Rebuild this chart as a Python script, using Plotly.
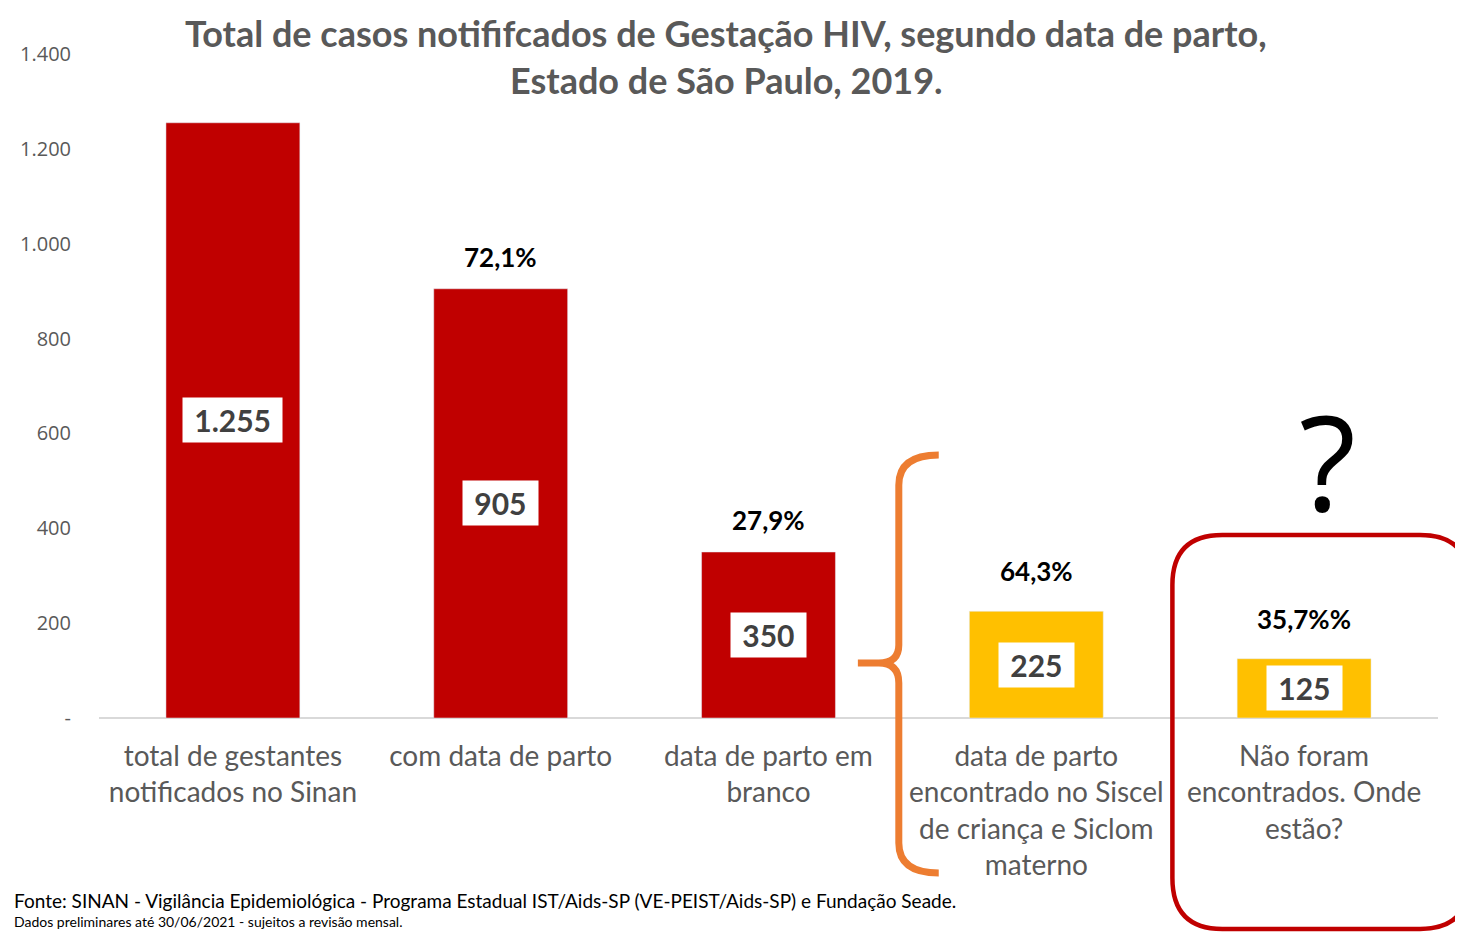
import plotly.graph_objects as go

# ---- data ----
categories = [
    "total de gestantes<br>notificados no Sinan",
    "com data de parto",
    "data de parto em<br>branco",
    "data de parto<br>encontrado no Siscel<br>de criança e Siclom<br>materno",
    "Não foram<br>encontrados. Onde<br>estão?",
]
values = [1255, 905, 350, 225, 125]
value_labels = ["1.255", "905", "350", "225", "125"]
pct_labels = ["", "72,1%", "27,9%", "64,3%", "35,7%%"]
bar_colors = ["#C00000", "#C00000", "#C00000", "#FFC000", "#FFC000"]
y_tickvals = [0, 200, 400, 600, 800, 1000, 1200, 1400]
y_ticktext = ["-", "200", "400", "600", "800", "1.000", "1.200", "1.400"]

FONT = "Lato, Open Sans, sans-serif"

# page geometry (pixels); the page body has an 8px margin
OFF = 8
W, H = 1463 - OFF, 934 - OFF
L, R, T, B = 97 - OFF, 25, 54 - OFF, 934 - 718
PW, PH = W - L - R, H - T - B


def px(x):  # page pixel -> paper
    return (x - OFF - L) / PW


def py(y):
    return (718 - y) / PH


xs = list(range(len(categories)))

fig = go.Figure()
fig.add_trace(go.Bar(
    x=xs, y=values, marker_color=bar_colors, width=0.5,
    hoverinfo="skip", showlegend=False,
))

ann = []
# value boxes at mid-bar
for i, (v, t) in enumerate(zip(values, value_labels)):
    ann.append(dict(x=i, y=v / 2, xref="x", yref="y", text="&nbsp;" + t + "&nbsp;",
                    showarrow=False, xanchor="center", yanchor="middle",
                    font=dict(family=FONT, size=30, color="#404040", weight="bold"),
                    bgcolor="white", borderpad=4))
# percentages above bars
for i, (v, t) in enumerate(zip(values, pct_labels)):
    if t:
        ann.append(dict(x=i, y=v, xref="x", yref="y", text=t, showarrow=False,
                        xanchor="center", yanchor="bottom", yshift=14 if i < 3 else 22,
                        font=dict(family=FONT, size=26, color="#000000", weight="bold")))

# title
title_font = dict(family=FONT, size=36, color="#595959", weight="bold")
ann.append(dict(x=px(725), y=py(33), xref="paper", yref="paper", showarrow=False,
                xanchor="center", yanchor="middle",
                text="Total de casos notififcados de Gestação HIV, segundo data de parto,",
                font=title_font))
ann.append(dict(x=px(725), y=py(80), xref="paper", yref="paper", showarrow=False,
                xanchor="center", yanchor="middle",
                text="Estado de São Paulo, 2019.", font=title_font))
# question mark
ann.append(dict(x=px(1327), y=py(460), xref="paper", yref="paper", showarrow=False,
                xanchor="center", yanchor="middle",
                text="?", font=dict(family="Open Sans, sans-serif", size=132, color="#000000")))
# footnotes
ann.append(dict(x=px(10), y=py(900), xref="paper", yref="paper", showarrow=False,
                xanchor="left", yanchor="middle",
                text="Fonte: SINAN - Vigilância Epidemiológica - Programa Estadual IST/Aids-SP (VE-PEIST/Aids-SP) e Fundação Seade.",
                font=dict(family=FONT, size=19, color="#000000")))
ann.append(dict(x=px(10), y=py(921), xref="paper", yref="paper", showarrow=False,
                xanchor="left", yanchor="middle",
                text="Dados preliminares até 30/06/2021 - sujeitos a revisão mensal.",
                font=dict(family=FONT, size=14, color="#000000")))


def pth(points):
    out = []
    for p in points:
        if isinstance(p, str):
            out.append(p)
        else:
            out.append(f"{px(p[0]):.5f},{py(p[1]):.5f}")
    return " ".join(out)


brace = pth(["M", (938, 455), "Q", (898, 455), (898, 485), "L", (898, 645),
             "Q", (898, 663), (878, 663), "L", (857, 663),
             "M", (878, 663), "Q", (898, 663), (898, 683), "L", (898, 843),
             "Q", (898, 873), (938, 873)])
box = pth(["M", (1222, 535), "L", (1420, 535), "Q", (1470, 535), (1470, 585),
           "L", (1470, 878), "Q", (1470, 929), (1420, 929), "L", (1222, 929),
           "Q", (1172, 929), (1172, 878), "L", (1172, 585), "Q", (1172, 535), (1222, 535), "Z"])

shapes = [
    dict(type="path", xref="paper", yref="paper", path=brace,
         line=dict(color="#ED7D31", width=7)),
    dict(type="path", xref="paper", yref="paper", path=box,
         line=dict(color="#C00000", width=4.5)),
]

fig.update_layout(
    width=W, height=H,
    margin=dict(l=L, r=R, t=T, b=B),
    plot_bgcolor="white", paper_bgcolor="white",
    annotations=ann, shapes=shapes, showlegend=False,
    xaxis=dict(tickvals=xs, ticktext=categories, range=[-0.5, 4.5],
               showgrid=False, zeroline=False, showline=False, ticks="",
               tickfont=dict(family=FONT, size=28, color="#595959"),
               ticklabelstandoff=19),
    yaxis=dict(range=[0, 1400], tickvals=y_tickvals, ticktext=y_ticktext,
               showgrid=False, zeroline=True, zerolinecolor="#D9D9D9", zerolinewidth=1.5,
               showline=False, ticks="", ticklabelstandoff=27,
               tickfont=dict(family="Open Sans, sans-serif", size=20, color="#595959")),
)

fig.write_html("out.html")
